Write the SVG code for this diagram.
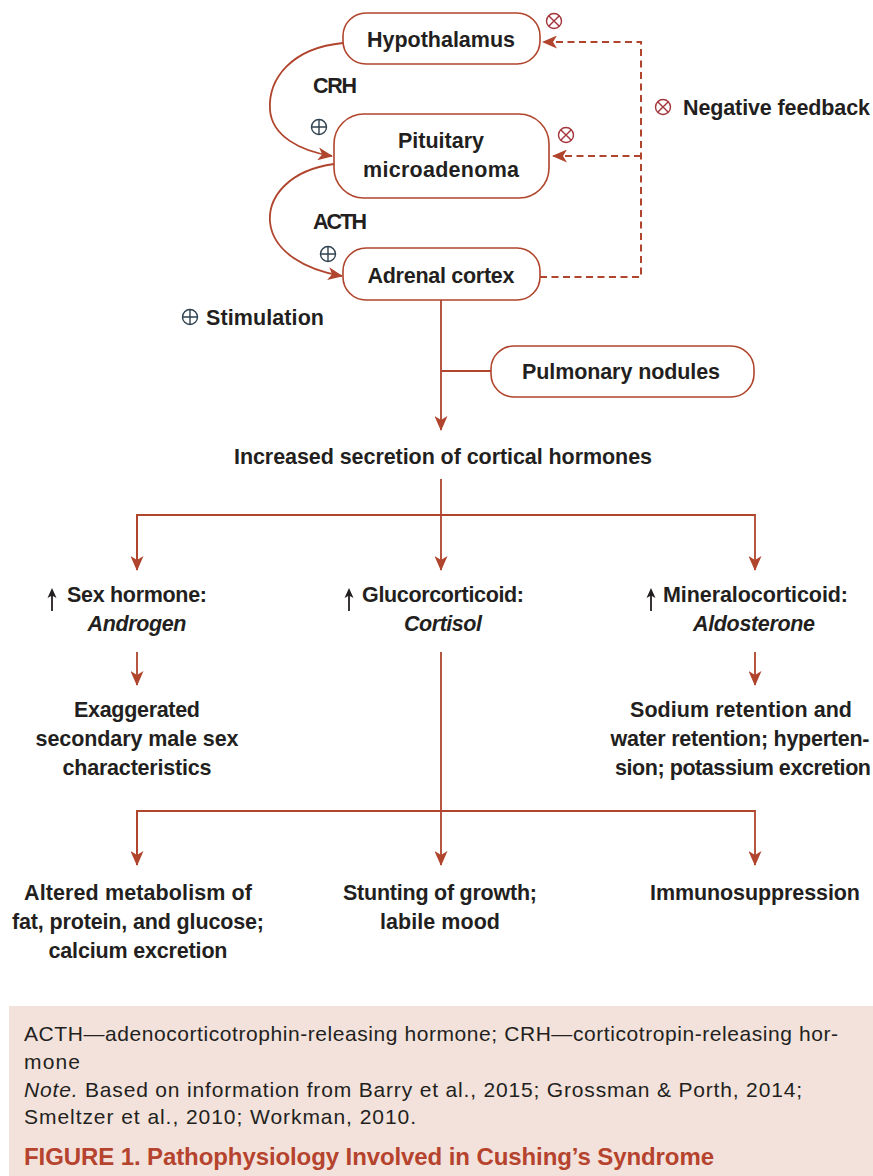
<svg xmlns="http://www.w3.org/2000/svg" width="873" height="1176" viewBox="0 0 873 1176">
<style>
.t{font-family:"Liberation Sans",Arial,sans-serif;font-size:21.5px;font-weight:bold;fill:#231f20}
.c{text-anchor:middle}
.i{font-style:italic}
.box{fill:#fff;stroke:#b0442c;stroke-width:1.6}
.ln{fill:none;stroke:#b0442c;stroke-width:1.8}
.dash{fill:none;stroke:#b0442c;stroke-width:2;stroke-dasharray:7,4.5}
.f{font-family:"Liberation Sans",Arial,sans-serif;font-size:21px;fill:#231f20}
.neg{fill:none;stroke:#a3343a;stroke-width:1.4}
.pos{fill:none;stroke:#2f4250;stroke-width:1.4}
</style>
<defs>
<marker id="ah" viewBox="0 0 15 13" refX="14" refY="6.5" markerWidth="15" markerHeight="13" markerUnits="userSpaceOnUse" orient="auto">
<path d="M0,0 L15,6.5 L0,13 L4,6.5 Z" fill="#b0442c"/>
</marker>
<g id="negsym"><circle r="7.5" class="neg"/><path d="M-5.3,-5.3 L5.3,5.3 M-5.3,5.3 L5.3,-5.3" class="neg"/></g>
<g id="possym"><circle r="7.5" class="pos"/><path d="M-7.5,0 L7.5,0 M0,-7.5 L0,7.5" class="pos"/></g>
<g id="up"><path d="M0,23 L0,6" stroke="#231f20" stroke-width="1.8"/><path d="M0,0 L4.5,10 L0,7.5 L-4.5,10 Z" fill="#231f20"/></g>
</defs>
<rect width="873" height="1176" fill="#fff"/>

<g id="connectors">
<path class="ln" d="M343,43 C292,48 268,78 270,110 C272,136 300,151 332,156" marker-end="url(#ah)"/>
<path class="ln" d="M334,164 C290,170 268,196 270,222 C273,252 306,270 342,276" marker-end="url(#ah)"/>
<path class="dash" d="M540,277 L641,277 L641,42 L543,42" marker-end="url(#ah)"/>
<path class="dash" d="M641,156 L553,156" marker-end="url(#ah)"/>
<path class="ln" d="M441,300 L441,430" marker-end="url(#ah)"/>
<path class="ln" d="M441,371 L491,371"/>
<path class="ln" d="M441,479 L441,570" marker-end="url(#ah)"/>
<path class="ln" d="M137,570 L137,515 L755,515 L755,570" marker-end="url(#ah)"/>
<path class="ln" d="M137,515 L137,570" marker-end="url(#ah)"/>
<path class="ln" d="M137,652 L137,685" marker-end="url(#ah)"/>
<path class="ln" d="M755,652 L755,685" marker-end="url(#ah)"/>
<path class="ln" d="M441,652 L441,865" marker-end="url(#ah)"/>
<path class="ln" d="M137,865 L137,811 L755,811 L755,865" marker-end="url(#ah)"/>
<path class="ln" d="M137,811 L137,865" marker-end="url(#ah)"/>
</g>

<g id="hypothalamus">
<rect class="box" x="343" y="13" width="197" height="51" rx="23"/>
<text class="t c" x="441" y="47" textLength="148">Hypothalamus</text>
</g>
<g id="pituitary">
<rect class="box" x="334" y="114" width="215" height="84" rx="30"/>
<text class="t c" x="441" y="148" textLength="86">Pituitary</text>
<text class="t c" x="441" y="177" textLength="156">microadenoma</text>
</g>
<g id="adrenal">
<rect class="box" x="343" y="248" width="197" height="52" rx="23"/>
<text class="t c" x="441" y="283" textLength="147">Adrenal cortex</text>
</g>
<g id="pulmonary">
<rect class="box" x="491" y="346" width="263" height="51" rx="23"/>
<text class="t c" x="621" y="379" textLength="198">Pulmonary nodules</text>
</g>

<g id="labels">
<text class="t" x="313" y="93" textLength="44">CRH</text>
<text class="t" x="313" y="229" textLength="54">ACTH</text>
<use href="#possym" x="319" y="127"/>
<use href="#possym" x="328" y="254"/>
<use href="#negsym" x="554" y="21"/>
<use href="#negsym" x="566" y="135"/>
</g>

<g id="legend">
<use href="#negsym" x="663" y="107"/>
<text class="t" x="683" y="115" textLength="187">Negative feedback</text>
<use href="#possym" x="190" y="317"/>
<text class="t" x="206" y="325" textLength="118">Stimulation</text>
</g>

<g id="secretion">
<text class="t c" x="443" y="464" textLength="418">Increased secretion of cortical hormones</text>
</g>

<g id="sex-hormone">
<use href="#up" x="52" y="588"/>
<text class="t" x="67" y="602" textLength="140">Sex hormone:</text>
<text class="t c i" x="137" y="631" textLength="99">Androgen</text>
</g>
<g id="glucocorticoid">
<use href="#up" x="349" y="588"/>
<text class="t" x="362" y="602" textLength="162">Glucorcorticoid:</text>
<text class="t c i" x="443" y="631" textLength="78">Cortisol</text>
</g>
<g id="mineralocorticoid">
<use href="#up" x="651" y="588"/>
<text class="t" x="663" y="602" textLength="185">Mineralocorticoid:</text>
<text class="t c i" x="754" y="631" textLength="122">Aldosterone</text>
</g>

<g id="androgen-effect">
<text class="t c" x="137" y="717" textLength="126">Exaggerated</text>
<text class="t c" x="137" y="746" textLength="203">secondary male sex</text>
<text class="t c" x="137" y="775" textLength="149">characteristics</text>
</g>
<g id="aldosterone-effect">
<text class="t c" x="741" y="717" textLength="222">Sodium retention and</text>
<text class="t c" x="740" y="746" textLength="259">water retention; hyperten-</text>
<text class="t c" x="743" y="775" textLength="256">sion; potassium excretion</text>
</g>

<g id="metabolism">
<text class="t c" x="138" y="900" textLength="228">Altered metabolism of</text>
<text class="t c" x="138" y="929" textLength="252">fat, protein, and glucose;</text>
<text class="t c" x="138" y="958" textLength="179">calcium excretion</text>
</g>
<g id="stunting">
<text class="t c" x="440" y="900" textLength="194">Stunting of growth;</text>
<text class="t c" x="440" y="929" textLength="120">labile mood</text>
</g>
<g id="immuno">
<text class="t c" x="755" y="900" textLength="210">Immunosuppression</text>
</g>

<g id="footer">
<rect x="9" y="1006" width="864" height="170" fill="#f2e2db"/>
<text class="f" x="24" y="1041" textLength="814">ACTH—adenocorticotrophin-releasing hormone; CRH—corticotropin-releasing hor-</text>
<text class="f" x="24" y="1069" textLength="56">mone</text>
<text class="f" x="24" y="1097" textLength="778"><tspan font-style="italic">Note.</tspan> Based on information from Barry et al., 2015; Grossman &amp; Porth, 2014;</text>
<text class="f" x="24" y="1124" textLength="392">Smeltzer et al., 2010; Workman, 2010.</text>
<text x="24" y="1165" textLength="690" style="font-family:'Liberation Sans',Arial,sans-serif;font-size:24px;font-weight:bold;fill:#b5432d">FIGURE 1. Pathophysiology Involved in Cushing’s Syndrome</text>
</g>
</svg>
